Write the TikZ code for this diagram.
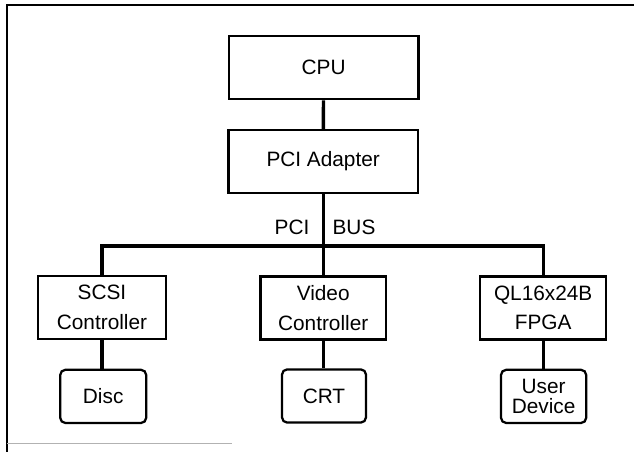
\documentclass[tikz,border=0pt]{standalone}
\usepackage{fontspec}
\setmainfont{Liberation Sans}
\usepackage{tikz}

\begin{document}
\begin{tikzpicture}[
    block/.style={draw, line width=1.6pt, minimum height=1.58cm, align=center,
        inner sep=0pt, font=\fontsize{14.8}{21}\selectfont},
    device/.style={draw, line width=1.6pt, rounded corners=0.13cm, minimum height=1.33cm,
        align=center, inner sep=0pt, font=\fontsize{14.8}{14.5}\selectfont},
    wire/.style={line width=2.4pt}
]

    \useasboundingbox (0,0) rectangle (15.85,-11.3);

    % frame
    \draw[line width=1.2pt] (15.85,-0.12) -- (0.18,-0.12) -- (0.18,-11.3);
    \draw[line width=0.8pt, gray!60] (0.18,-11.08) -- (5.8,-11.08);

    \node[block, minimum width=4.74cm] (cpu) at (8.09,-1.69) {CPU};
    \node[block, minimum width=4.74cm] (adapter) at (8.08,-4.04) {PCI Adapter};

    \node[block, minimum width=3.2cm] (scsi) at (2.55,-7.69) {SCSI\\Controller};
    \node[block, minimum width=3.13cm] (video) at (8.08,-7.7) {Video\\Controller};
    \node[block, minimum width=3.15cm] (fpga) at (13.58,-7.7) {QL16x24B\\FPGA};

    \node[device, minimum width=2.15cm] (disc) at (2.58,-9.91) {Disc};
    \node[device, minimum width=2.1cm] (crt) at (8.1,-9.9) {CRT};
    \node[device, minimum width=2.13cm] (user) at (13.59,-9.91) {User\\Device};

    \coordinate (bus) at (8.08,-6.15);
    \node[font=\fontsize{14.8}{18}\selectfont] (pcilabel) at (7.3,-5.68) {PCI};
    \node[font=\fontsize{14.8}{18}\selectfont] (buslabel) at (8.85,-5.68) {BUS};

    \draw[wire] (cpu) -- (adapter);
    \draw[wire] (adapter) -- (video);
    \draw[wire] (scsi.north) -- (scsi.north |- bus) -- (fpga.north |- bus) -- (fpga.north);

    \draw[wire] (scsi) -- (scsi.south |- disc.north);
    \draw[wire] (video) -- (video.south |- crt.north);
    \draw[wire] (fpga) -- (fpga.south |- user.north);

\end{tikzpicture}
\end{document}
